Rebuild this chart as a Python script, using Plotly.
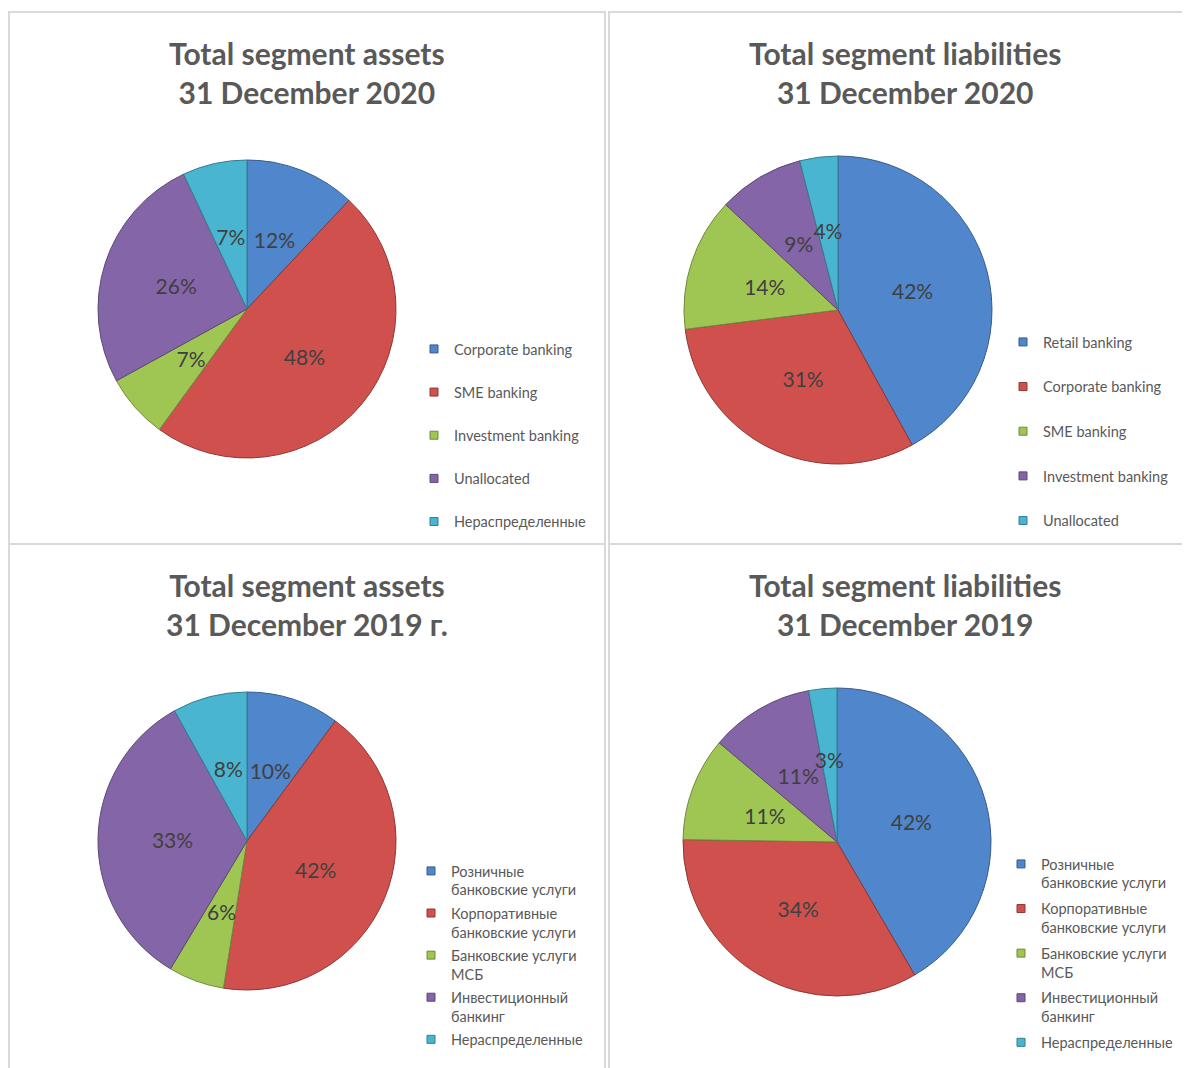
import plotly.graph_objects as go

# page body has an 8px margin; figure fills the rest of the 1190x1068 window
OFF = 8
W, H = 1190 - OFF, 1068 - OFF

# ---- data ----
titles = [
    "Total segment assets<br>31 December 2020",
    "Total segment liabilities<br>31 December 2020",
    "Total segment assets<br>31 December 2019 г.",
    "Total segment liabilities<br>31 December 2019",
]
labels_tl = ["Corporate banking", "SME banking", "Investment banking", "Unallocated", "Нераспределенные"]
values_tl = [12, 48, 7, 26, 7]

labels_tr = ["Retail banking", "Corporate banking", "SME banking", "Investment banking", "Unallocated"]
values_tr = [42, 31, 14, 9, 4]

labels_ru = ["Розничные<br>банковские услуги", "Корпоративные<br>банковские услуги",
             "Банковские услуги<br>МСБ", "Инвестиционный<br>банкинг", "Нераспределенные"]
values_bl = [10, 42, 6, 33, 8]
values_br = [42, 34, 11, 11, 3]

colors = ["#4F86CC", "#D0504D", "#9FC653", "#8465A8", "#4AB5D0"]
dark = ["#385D8A", "#8C3836", "#71893F", "#5C4776", "#357D91"]

# ---- layout helpers (window pixel -> paper) ----
def fx(x):
    return (x - OFF) / W

def fy(y):
    return 1 - (y - OFF) / H

panels = [
    dict(labels=labels_tl, values=values_tl, c=(247, 309), r=149, title_c=(307, 72.5),
         leg=(414, 333), gap=21.3, valign="middle"),
    dict(labels=labels_tr, values=values_tr, c=(838, 310), r=154, title_c=(905, 72.5),
         leg=(1003, 326), gap=22.8, valign="middle"),
    dict(labels=labels_ru, values=values_bl, c=(247, 841), r=149, title_c=(307, 604.5),
         leg=(411, 855), gap=1.4, valign="top"),
    dict(labels=labels_ru, values=values_br, c=(837, 842), r=154, title_c=(905, 604.5),
         leg=(1001, 848), gap=3.9, valign="top"),
]

LABEL_R = 0.5     # Excel puts the percentage labels at half the radius
LABEL_SIZE = 21
# two transparent overlay rings carry the labels; their middle radius is LABEL_R
RINGS = [
    dict(hole=0.42, size=LABEL_SIZE, big=True),   # slices spanning a quarter mark
    dict(hole=0.70, size=6, big=False),           # the other slices
]


def pct_texts(values):
    total = sum(values)
    return [f"{round(100 * v / total)}%" for v in values]


def spans_quarter(values):
    total = sum(values)
    out, cum = [], 0
    for v in values:
        s, e = cum / total, (cum + v) / total
        out.append(any(s < q < e for q in (0.25, 0.5, 0.75)))
        cum += v
    return out


fig = go.Figure()
layout_legends = {}
annotations = []
for k, p in enumerate(panels):
    cx, cy = p["c"]
    r = p["r"]
    fig.add_trace(go.Pie(
        labels=p["labels"], values=p["values"], sort=False, direction="clockwise",
        rotation=0,
        domain=dict(x=[fx(cx - r), fx(cx + r)], y=[fy(cy + r), fy(cy - r)]),
        marker=dict(colors=colors, line=dict(color=dark, width=1)),
        textinfo="none", showlegend=False, hoverinfo="label+percent",
    ))
    texts = pct_texts(p["values"])
    big = spans_quarter(p["values"])
    for ring in RINGS:
        ro = r * LABEL_R / ((1 + ring["hole"]) / 2)
        fig.add_trace(go.Pie(
            labels=p["labels"], values=p["values"], sort=False, direction="clockwise",
            rotation=0, hole=ring["hole"],
            domain=dict(x=[fx(cx - ro), fx(cx + ro)], y=[fy(cy + ro), fy(cy - ro)]),
            marker=dict(colors=["rgba(0,0,0,0)"] * 5, line=dict(width=0)),
            text=[t if b == ring["big"] else "" for t, b in zip(texts, big)],
            textinfo="text", textposition="inside",
            insidetextorientation="horizontal",
            textfont=dict(family="Lato", size=ring["size"], color="#404040"),
            showlegend=False, hoverinfo="skip",
        ))
    legname = "legend" if k == 0 else f"legend{k+1}"
    for i, lab in enumerate(p["labels"]):
        fig.add_trace(go.Scatter(
            x=[None], y=[None], mode="markers", name=lab,
            marker=dict(symbol="square", size=8, color=colors[i], line=dict(color=dark[i], width=1)),
            legend=legname, legendgroup=f"p{k}-{i}", showlegend=True, hoverinfo="skip",
        ))
    layout_legends[legname] = dict(
        x=fx(p["leg"][0]), y=fy(p["leg"][1]), xanchor="left", yanchor="top",
        font=dict(family="Lato", size=14.5, color="#595959"),
        tracegroupgap=p["gap"], valign=p["valign"], bgcolor="rgba(0,0,0,0)",
        borderwidth=0,
    )
    annotations.append(dict(
        x=fx(p["title_c"][0]), y=fy(p["title_c"][1]), xref="paper", yref="paper",
        xanchor="center", yanchor="middle", showarrow=False, text=titles[k],
        font=dict(family="Lato", size=30, color="#595959", weight="bold"),
    ))

border = "#D9D9D9"
rects = [(9, 12, 605, 544), (609, 12, 1196, 544), (9, 544, 605, 1076), (609, 544, 1196, 1076)]
shapes = []
for x0, y0, x1, y1 in rects:
    shapes.append(dict(type="rect", xref="paper", yref="paper",
                       x0=fx(x0), x1=fx(x1), y0=fy(y1), y1=fy(y0),
                       line=dict(color=border, width=2), fillcolor="rgba(0,0,0,0)", layer="below"))

fig.update_layout(
    width=W, height=H, margin=dict(l=0, r=0, t=0, b=0),
    paper_bgcolor="white", plot_bgcolor="white",
    xaxis=dict(visible=False), yaxis=dict(visible=False),
    uniformtext=dict(minsize=LABEL_SIZE, mode="show"),
    annotations=annotations, shapes=shapes,
    **layout_legends,
)

fig.write_html("out.html")
